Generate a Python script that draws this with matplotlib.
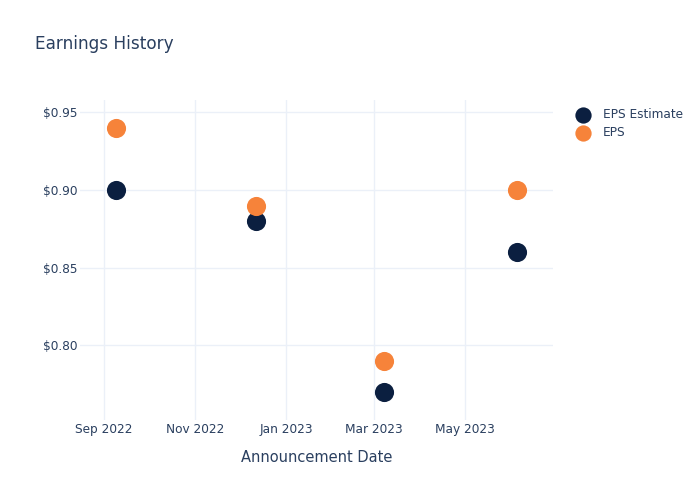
import matplotlib.pyplot as plt
import matplotlib.dates as mdates
import matplotlib.ticker as mticker
import numpy as np

dates = np.array(['2022-09-09', '2022-12-12', '2023-03-08', '2023-06-05'], dtype='datetime64[D]')
eps_estimate = [0.90, 0.88, 0.77, 0.86]
eps_actual = [0.94, 0.89, 0.79, 0.90]

text_col = '#2a3f5f'
grid_col = '#ebf0f8'
navy = '#0b1f40'
orange = '#f6833a'

fig = plt.figure(figsize=(7, 5), dpi=100)
ax = fig.add_axes([80/700, 0.16, (553-80)/700, 0.64])

ax.scatter(dates, eps_estimate, s=190, color=navy, label='EPS Estimate', zorder=3, linewidths=0)
ax.scatter(dates, eps_actual, s=190, color=orange, label='EPS', zorder=3, linewidths=0)

ax.set_xlim(np.datetime64('2022-08-16'), np.datetime64('2023-06-29'))
ax.set_ylim(0.752, 0.958)
ax.xaxis.set_major_locator(mdates.MonthLocator(bymonth=[1, 3, 5, 7, 9, 11]))
ax.xaxis.set_major_formatter(mdates.DateFormatter('%b %Y'))
ax.yaxis.set_major_locator(mticker.MultipleLocator(0.05))
ax.yaxis.set_major_formatter(mticker.FuncFormatter(lambda v, p: '$%.2f' % v))

for s in ax.spines.values():
    s.set_visible(False)
ax.grid(True, color=grid_col, linewidth=1)
ax.set_axisbelow(True)
ax.tick_params(length=0, labelsize=8.7, colors=text_col)
ax.tick_params(axis='x', pad=2)
ax.tick_params(axis='y', pad=1.5)

ax.set_xlabel('Announcement Date', fontsize=10.5, color=text_col, labelpad=10)
fig.text(35/700, 1 - 44/500, 'Earnings History', fontsize=12.2, color=text_col, va='center')

leg = ax.legend(loc='upper left', bbox_to_anchor=(1.014, 1.01), frameon=False, fontsize=8.7,
                labelcolor=text_col, handletextpad=0.7, labelspacing=0.45, markerscale=0.85)

fig.savefig('out.png', dpi=100)
